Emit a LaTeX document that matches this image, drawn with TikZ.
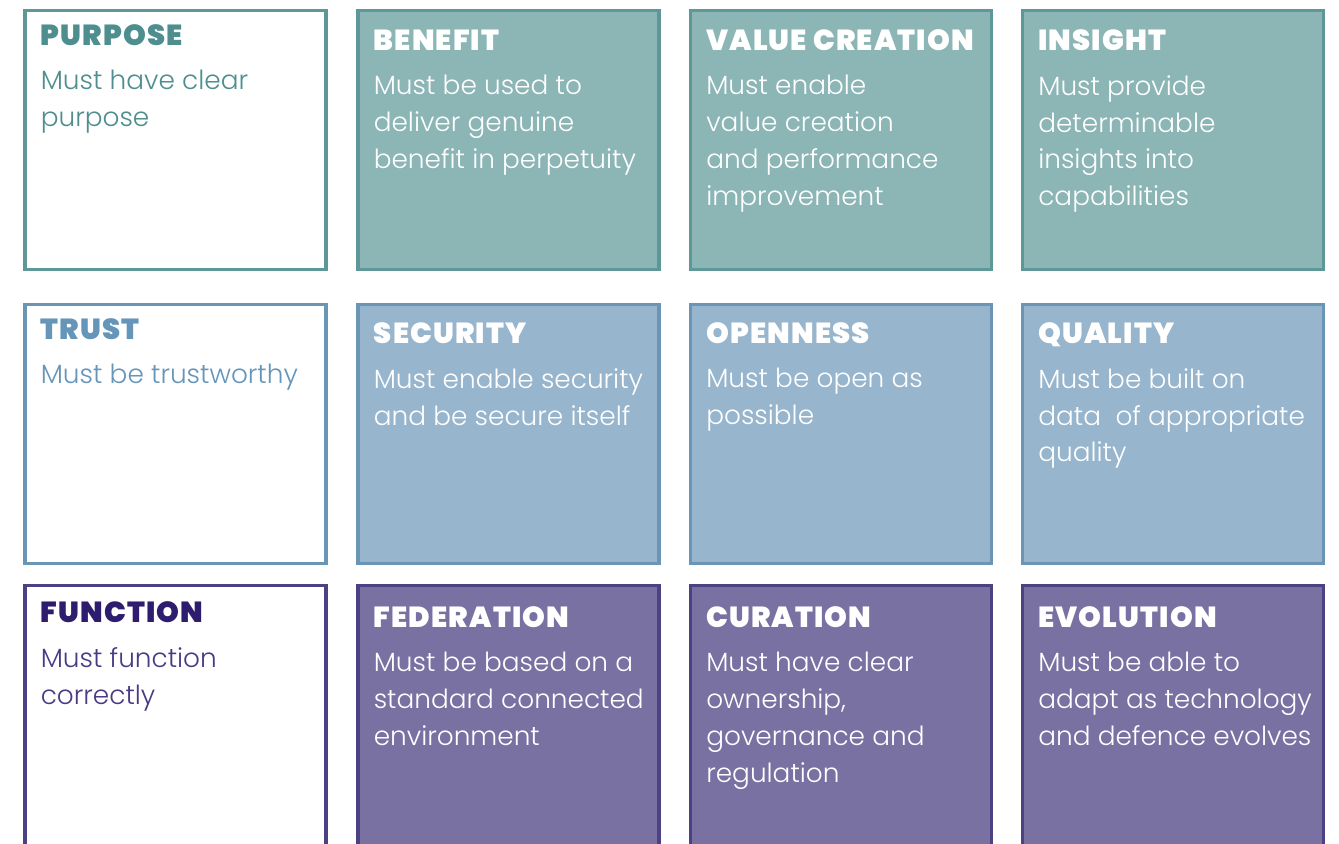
\documentclass[tikz,border=0pt]{standalone}
\usepackage{fontspec}
\setmainfont{Poppins}[UprightFont={* Light}, BoldFont={* Black}]
\usetikzlibrary{positioning}

\definecolor{tealfill}{HTML}{8CB5B6}
\definecolor{tealdraw}{HTML}{5E9797}
\definecolor{tealtext}{HTML}{4E8E8E}
\definecolor{bluefill}{HTML}{97B5CC}
\definecolor{bluedraw}{HTML}{6B95B5}
\definecolor{bluetext}{HTML}{6595B9}
\definecolor{purplefill}{HTML}{7A71A3}
\definecolor{purpledraw}{HTML}{4C4183}
\definecolor{purpletitle}{HTML}{2E1C6E}
\definecolor{purpletext}{HTML}{4A3A86}

\tikzset{
  cell/.style={draw, line width=1.8pt, minimum width=6.02cm, minimum height=5.18cm, inner sep=0pt},
  heading/.style={anchor=base west, inner sep=0pt, font=\fontsize{16.5}{19}\selectfont\bfseries\addfontfeature{LetterSpace=4}},
  body/.style={anchor=north west, inner sep=0pt, align=left, font=\fontsize{15}{21}\selectfont}
}

\begin{document}
\begin{tikzpicture}[x=0.02cm, y=-0.02cm]
\def \xa {175.5}
\def \xb {508.5}
\def \xc {841}
\def \xd {1173}
\def \ya {140}
\def \yb {434}
\def \yc {718}
\def \gap {24}

\useasboundingbox (0,0) rectangle (1339,844);
\clip (0,0) rectangle (1339,844);

% top row
\node [cell, draw=tealdraw, fill=white] (purpose) at (\xa, \ya) {};
\node [cell, draw=tealdraw, fill=tealfill] (benefit) at (\xb, \ya) {};
\node [cell, draw=tealdraw, fill=tealfill] (value) at (\xc, \ya) {};
\node [cell, draw=tealdraw, fill=tealfill] (insight) at (\xd, \ya) {};

% middle row
\node [cell, draw=bluedraw, fill=white] (trust) at (\xa, \yb) {};
\node [cell, draw=bluedraw, fill=bluefill] (security) at (\xb, \yb) {};
\node [cell, draw=bluedraw, fill=bluefill] (openness) at (\xc, \yb) {};
\node [cell, draw=bluedraw, fill=bluefill] (quality) at (\xd, \yb) {};

% bottom row
\node [cell, draw=purpledraw, fill=white, minimum height=5.3cm] (function) at (\xa, \yc) {};
\node [cell, draw=purpledraw, fill=purplefill, minimum height=5.3cm] (federation) at (\xb, \yc) {};
\node [cell, draw=purpledraw, fill=purplefill, minimum height=5.3cm] (curation) at (\xc, \yc) {};
\node [cell, draw=purpledraw, fill=purplefill, minimum height=5.3cm] (evolution) at (\xd, \yc) {};

% headings
\node [heading, text=tealtext] (purposeT) at ([shift={(17,37)}] purpose.north west) {PURPOSE};
\node [heading, text=white] (benefitT) at ([shift={(17,42)}] benefit.north west) {BENEFIT};
\node [heading, text=white] (valueT) at ([shift={(17,42)}] value.north west) {VALUE CREATION};
\node [heading, text=white] (insightT) at ([shift={(17,42)}] insight.north west) {INSIGHT};

\node [heading, text=bluetext] (trustT) at ([shift={(17,37)}] trust.north west) {TRUST};
\node [heading, text=white] (securityT) at ([shift={(17,41)}] security.north west) {SECURITY};
\node [heading, text=white] (opennessT) at ([shift={(17,41)}] openness.north west) {OPENNESS};
\node [heading, text=white] (qualityT) at ([shift={(17,41)}] quality.north west) {QUALITY};

\node [heading, text=purpletitle] (functionT) at ([shift={(17,39)}] function.north west) {FUNCTION};
\node [heading, text=white] (federationT) at ([shift={(17,44)}] federation.north west) {FEDERATION};
\node [heading, text=white] (curationT) at ([shift={(17,44)}] curation.north west) {CURATION};
\node [heading, text=white] (evolutionT) at ([shift={(17,44)}] evolution.north west) {EVOLUTION};

% texts
\node [body, text=tealtext] (purposeB) at ([shift={(0,\gap)}] purposeT.base west) {Must have clear\\purpose};
\node [body, text=white] (benefitB) at ([shift={(0,\gap)}] benefitT.base west) {Must be used to\\deliver genuine\\benefit in perpetuity};
\node [body, text=white] (valueB) at ([shift={(0,\gap)}] valueT.base west) {Must enable\\value creation\\and performance\\improvement};
\node [body, text=white] (insightB) at ([shift={(0,\gap)}] insightT.base west) {Must provide\\determinable\\insights into\\capabilities};

\node [body, text=bluetext] (trustB) at ([shift={(0,\gap)}] trustT.base west) {Must be trustworthy};
\node [body, text=white] (securityB) at ([shift={(0,\gap)}] securityT.base west) {Must enable security\\and be secure itself};
\node [body, text=white] (opennessB) at ([shift={(0,\gap)}] opennessT.base west) {Must be open as\\possible};
\node [body, text=white] (qualityB) at ([shift={(0,\gap)}] qualityT.base west) {Must be built on\\data\ \ of appropriate\\quality};

\node [body, text=purpletext] (functionB) at ([shift={(0,\gap)}] functionT.base west) {Must function\\correctly};
\node [body, text=white] (federationB) at ([shift={(0,\gap)}] federationT.base west) {Must be based on a\\standard connected\\environment};
\node [body, text=white] (curationB) at ([shift={(0,\gap)}] curationT.base west) {Must have clear\\ownership,\\governance and\\regulation};
\node [body, text=white] (evolutionB) at ([shift={(0,\gap)}] evolutionT.base west) {Must be able to\\adapt as technology\\and defence evolves};
\end{tikzpicture}
\end{document}
